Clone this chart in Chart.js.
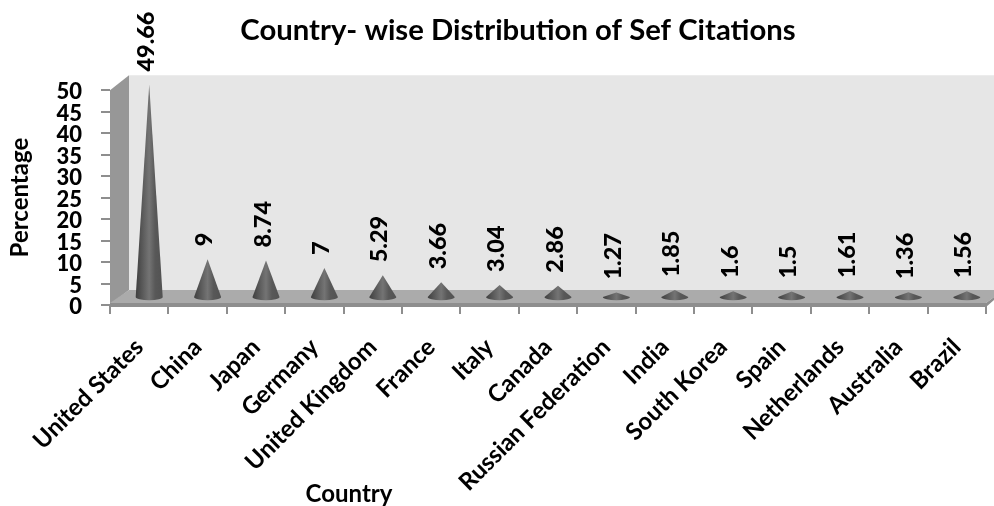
<!DOCTYPE html>
<html>
<head>
<meta charset="utf-8">
<style>body{margin:0;background:#fff}canvas{display:block}</style>
<script src="https://cdn.jsdelivr.net/npm/chart.js@4/dist/chart.umd.js"></script>
</head>
<body>
<canvas id="c" width="994" height="506"></canvas>
<script>
const countries=['United States','China','Japan','Germany','United Kingdom','France','Italy','Canada','Russian Federation','India','South Korea','Spain','Netherlands','Australia','Brazil'];
const percent=[49.66,9,8.74,7,5.29,3.66,3.04,2.86,1.27,1.85,1.6,1.5,1.61,1.36,1.56];
const FONT='Lato, sans-serif';
// depth of the fake 3d box
const DX=19,DY=15;

function poly(ctx,color,pts){
ctx.fillStyle=color;
ctx.beginPath();
pts.forEach((p,i)=>i?ctx.lineTo(p[0],p[1]):ctx.moveTo(p[0],p[1]));
ctx.closePath();
ctx.fill();
}

const box3d={
id:'box3d',
afterLayout(chart){chart.titleBlock.left=50},
beforeDatasetsDraw(chart){
const ctx=chart.ctx,a=chart.chartArea;
const x0=a.left,x1=a.right,top=a.top,bot=a.bottom;
poly(ctx,'#e6e6e6',[[x0+DX,top-DY],[994,top-DY],[994,bot-DY],[x0+DX,bot-DY]]);
poly(ctx,'#979797',[[x0,top],[x0+DX,top-DY],[x0+DX,bot-DY],[x0,bot]]);
poly(ctx,'#ababab',[[x0,bot-2],[x0+DX,bot-DY],[994,bot-DY],[994,bot-8],[x1,bot-2]]);
poly(ctx,'#8e8e8e',[[x0,bot-2],[x1,bot-2],[994,bot-8],[994,bot-5],[x1,bot+2],[x0,bot+2]]);
},
afterDatasetsDraw(chart){
const ctx=chart.ctx,meta=chart.getDatasetMeta(0);
meta.data.forEach((bar,i)=>{
const cx=bar.x+10,tip=bar.y-7,base=bar.base-7;
const r=13.5,ry=3.2;
const g=ctx.createLinearGradient(cx-r,0,cx+r,0);
g.addColorStop(0,'#3f3f3f');
g.addColorStop(.5,'#747474');
g.addColorStop(.72,'#585858');
g.addColorStop(1,'#525252');
ctx.fillStyle=g;
ctx.beginPath();
ctx.moveTo(cx,tip);
ctx.lineTo(cx+r,base);
ctx.ellipse(cx,base,r,ry,0,0,Math.PI);
ctx.closePath();
ctx.fill();
// value label, turned on its side above the tip
ctx.save();
ctx.translate(cx-3,tip-13);
ctx.rotate(-Math.PI/2);
ctx.font='900 23.5px '+FONT;
ctx.fillStyle='#000';
ctx.textAlign='left';
ctx.textBaseline='middle';
ctx.fillText(String(percent[i]),0,0);
ctx.restore();
});
ctx.save();
ctx.font='bold 24px '+FONT;
ctx.fillStyle='#000';
ctx.textAlign='center';
ctx.textBaseline='middle';
ctx.fillText('Country',349,494);
ctx.restore();
}
};

new Chart(document.getElementById('c'),{
type:'bar',
data:{labels:countries,datasets:[{label:'Percentage',data:percent,backgroundColor:'rgba(0,0,0,0)'}]},
plugins:[box3d],
options:{
responsive:false,animation:false,
layout:{padding:{right:8}},
plugins:{
legend:{display:false},
tooltip:{enabled:false},
title:{display:true,text:'Country- wise Distribution of Sef Citations',color:'#000',font:{family:FONT,size:29.3,weight:'bold'},padding:{top:13,bottom:42}}
},
scales:{
x:{
afterFit(s){s.height=201;s.paddingLeft=0;s.paddingRight=0},
grid:{drawOnChartArea:false,color:'#8e8e8e',lineWidth:2,tickLength:9},
border:{display:false},
ticks:{autoSkip:false,maxRotation:45,minRotation:45,padding:19,color:'#000',font:{family:FONT,size:24,weight:'bold'}}
},
y:{
min:0,max:50,
afterFit(s){s.width=110;s.paddingTop=0;s.paddingBottom=0},
grid:{drawOnChartArea:false,color:'#8e8e8e',lineWidth:2,tickLength:9},
border:{display:false},
ticks:{autoSkip:false,stepSize:5,padding:19,labelOffset:2,color:'#000',font:{family:FONT,size:22,weight:'900'}},
title:{display:true,text:'Percentage',color:'#000',font:{family:FONT,size:24,weight:'bold'},padding:{top:6,bottom:0}}
}
}
}
});
</script>
</body>
</html>
